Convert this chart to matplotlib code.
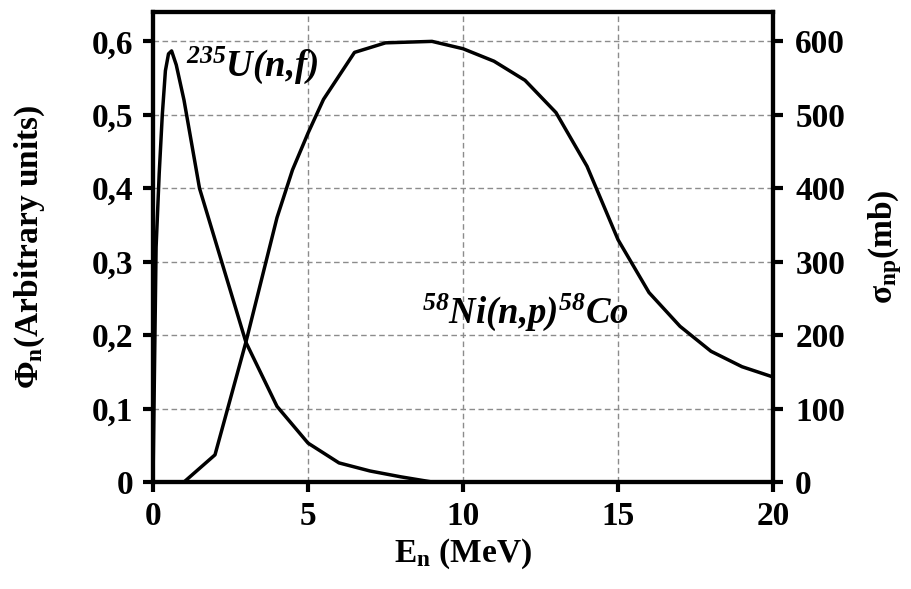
import matplotlib
matplotlib.use("Agg")
import matplotlib.pyplot as plt

plt.rcParams['font.family'] = ['Liberation Serif', 'DejaVu Serif']
plt.rcParams['font.weight'] = 'bold'
plt.rcParams['mathtext.default'] = 'regular'

# U-235 fission neutron spectrum (left axis)
u_energy = [0, 0.1, 0.2, 0.3, 0.4, 0.5, 0.6, 0.75, 1.0, 1.5, 2, 3, 4, 5, 6, 7, 8, 9]
u_flux = [0, 0.32, 0.42, 0.50, 0.56, 0.583, 0.587, 0.568, 0.52, 0.40, 0.33, 0.19,
          0.103, 0.053, 0.026, 0.015, 0.007, 0.0]

# 58Ni(n,p)58Co cross-section (right axis)
ni_energy = [1, 2, 3, 4, 4.5, 5, 5.5, 6.5, 7.5, 9, 10, 11, 12, 13, 14, 15, 16, 17, 18, 19, 20]
ni_sigma = [0, 37, 191, 360, 425, 475, 521, 585, 598, 600, 590, 573, 547, 503, 430, 330,
            258, 212, 178, 157, 143]

x_ticks = [0, 5, 10, 15, 20]
left_ticks = [0, 0.1, 0.2, 0.3, 0.4, 0.5, 0.6]
left_tick_labels = ['0', '0,1', '0,2', '0,3', '0,4', '0,5', '0,6']
right_ticks = [0, 100, 200, 300, 400, 500, 600]
right_tick_labels = ['0', '100', '200', '300', '400', '500', '600']

fs = 24
fig = plt.figure(figsize=(9.12, 5.89), dpi=100)
ax = fig.add_axes([153/912, 1 - 482/589, (773-153)/912, (482-12)/589])
ax2 = ax.twinx()

ax.plot(u_energy, u_flux, color='black', lw=2.5, zorder=3)
ax2.plot(ni_energy, ni_sigma, color='black', lw=2.5, zorder=3)

ax.set_xlim(0, 20)
ax.set_ylim(0, 0.64)
ax2.set_ylim(0, 640)

ax.set_xticks(x_ticks)
ax.set_xticklabels([str(t) for t in x_ticks], fontsize=fs, fontweight='bold')
ax.set_yticks(left_ticks)
ax.set_yticklabels(left_tick_labels, fontsize=fs, fontweight='bold')
ax2.set_yticks(right_ticks)
ax2.set_yticklabels(right_tick_labels, fontsize=fs, fontweight='bold')

ax.grid(True, color='#8c8c8c', linestyle=(0, (4, 2.5)), linewidth=1.0)
ax.set_axisbelow(True)

for a in (ax, ax2):
    for s in a.spines.values():
        s.set_linewidth(3.0)
        s.set_color('black')
ax.tick_params(axis='both', direction='out', length=7, width=3, pad=7)
ax2.tick_params(axis='y', direction='out', length=7, width=3, pad=9)

ax.set_xlabel('E$_n$ (MeV)', fontsize=fs, fontweight='bold', labelpad=3)
ax.set_ylabel('Φ$_n$(Arbitrary units)', fontsize=fs, fontweight='bold', labelpad=32)
ax2.set_ylabel('σ$_{np}$(mb)', fontsize=fs, fontweight='bold', labelpad=15)

ax.text(1.08, 0.553, '${}^{235}$U(n,f)', fontsize=26.5, fontweight='bold',
        fontstyle='italic', ha='left', va='baseline')
ax.text(12.0, 0.217, '${}^{58}$Ni(n,p)${}^{58}$Co', fontsize=26.5, fontweight='bold',
        fontstyle='italic', ha='center', va='baseline')

fig.savefig('out.png', dpi=100)
